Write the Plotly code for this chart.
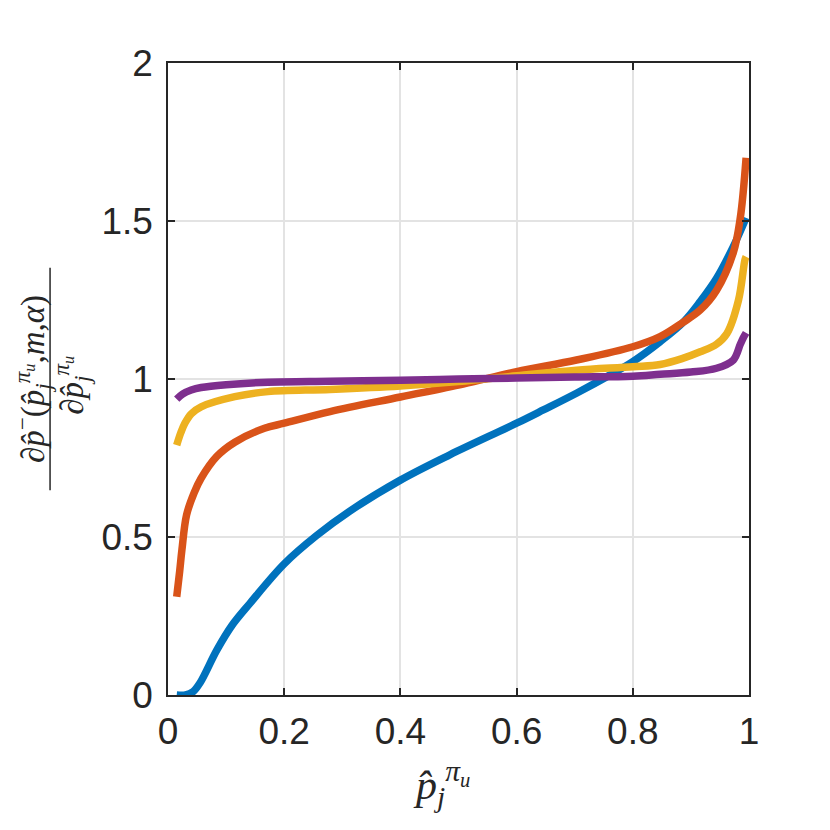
import plotly.graph_objects as go

# curve samples
blue_x = [0.015, 0.03, 0.043, 0.055, 0.084, 0.11, 0.141, 0.2, 0.256, 0.313, 0.4,
          0.485, 0.6, 0.646, 0.703, 0.761, 0.8, 0.847, 0.887, 0.916, 0.944, 0.973,
          0.995]
blue_y = [0.0, 0.0, 0.01, 0.038, 0.142, 0.22, 0.29, 0.415, 0.505, 0.582, 0.68,
          0.76, 0.86, 0.902, 0.955, 1.013, 1.055, 1.118, 1.18, 1.245, 1.318, 1.419,
          1.51]

orange_x = [0.015, 0.02, 0.024, 0.032, 0.045, 0.057, 0.084, 0.115, 0.166, 0.2, 0.279,
            0.4, 0.508, 0.6, 0.703, 0.8, 0.847, 0.887, 0.916, 0.944, 0.973, 0.985,
            0.995]
orange_y = [0.311, 0.39, 0.46, 0.57, 0.64, 0.686, 0.755, 0.80, 0.844, 0.86, 0.897,
            0.943, 0.984, 1.023, 1.06, 1.102, 1.134, 1.18, 1.218, 1.28, 1.40, 1.51,
            1.70]

yellow_x = [0.015, 0.022, 0.029, 0.04, 0.057, 0.115, 0.172, 0.279, 0.4, 0.5, 0.6,
            0.703, 0.8, 0.847, 0.887, 0.916, 0.944, 0.962, 0.982, 0.993, 0.995]
yellow_y = [0.791, 0.83, 0.86, 0.89, 0.912, 0.944, 0.96, 0.967, 0.978, 0.992, 1.01,
            1.028, 1.039, 1.046, 1.066, 1.086, 1.11, 1.144, 1.25, 1.377, 1.387]

purple_x = [0.015, 0.025, 0.04, 0.057, 0.1, 0.172, 0.279, 0.4, 0.5, 0.6, 0.7, 0.8,
            0.847, 0.9, 0.944, 0.973, 0.985, 0.99, 0.995]
purple_y = [0.936, 0.952, 0.965, 0.973, 0.982, 0.99, 0.993, 0.996, 1.0, 1.003,
            1.006, 1.009, 1.015, 1.022, 1.034, 1.06, 1.11, 1.13, 1.146]

tick_vals_x = [0, 0.2, 0.4, 0.6, 0.8, 1]
tick_text_x = ['0', '0.2', '0.4', '0.6', '0.8', '1']
tick_vals_y = [0, 0.5, 1, 1.5, 2]
tick_text_y = ['0', '0.5', '1', '1.5', '2']

series = [(blue_x, blue_y, '#0072BD'),
          (orange_x, orange_y, '#D95319'),
          (yellow_x, yellow_y, '#EDB120'),
          (purple_x, purple_y, '#7E2F8E')]

fig = go.Figure()
for xs, ys, col in series:
    fig.add_trace(go.Scatter(x=xs, y=ys, mode='lines',
                             line=dict(color=col, width=7.5, shape='spline',
                                       smoothing=1.0),
                             showlegend=False, hoverinfo='skip'))

axis_style = dict(showline=True, linecolor='#262626', linewidth=1.5, mirror='ticks',
                  ticks='inside', ticklen=7, tickwidth=1.5, tickcolor='#262626',
                  showgrid=True, gridcolor='#e3e3e3', gridwidth=1.5, zeroline=False,
                  tickfont=dict(family='Liberation Sans, Arial', size=37, color='#262626'))

fig.update_xaxes(range=[0, 1], tickvals=tick_vals_x, ticktext=tick_text_x,
                 ticklabelstandoff=3, **axis_style)
fig.update_yaxes(range=[0, 2], tickvals=tick_vals_y, ticktext=tick_text_y,
                 ticklabelstandoff=6, **axis_style)

math_font = dict(family='Liberation Serif, DejaVu Serif', size=33, color='#262626')

# y label drawn as a rotated fraction
fig.add_shape(type='line', xref='paper', yref='paper', x0=-0.203, x1=-0.203,
              y0=0.324, y1=0.676, line=dict(color='#262626', width=1.5))
fig.add_annotation(xref='paper', yref='paper', x=-0.278, y=0.5, showarrow=False,
                   textangle=-90, font=math_font,
                   text='∂<i>p̂</i><sup>−</sup>(<i>p̂</i><sub><i>j</i></sub>'
                        '<sup><i>π<sub>u</sub></i></sup>,<i>m</i>,<i>α</i>)')
fig.add_annotation(xref='paper', yref='paper', x=-0.21, y=0.49, showarrow=False,
                   textangle=-90, font=math_font,
                   text='∂<i>p̂</i><sub><i>j</i></sub><sup><i>π<sub>u</sub></i></sup>')

# x label
fig.add_annotation(xref='paper', yref='paper', x=0.47, y=-0.19, showarrow=False,
                   font=dict(family='Liberation Serif, DejaVu Serif', size=42,
                             color='#262626'),
                   text='<i>p̂</i><sub><i>j</i></sub><sup><i>π<sub>u</sub></i></sup>')

fig.update_layout(width=830, height=830, plot_bgcolor='white', paper_bgcolor='white',
                  margin=dict(l=160, r=89, t=55, b=143))

fig.write_html("out.html")
